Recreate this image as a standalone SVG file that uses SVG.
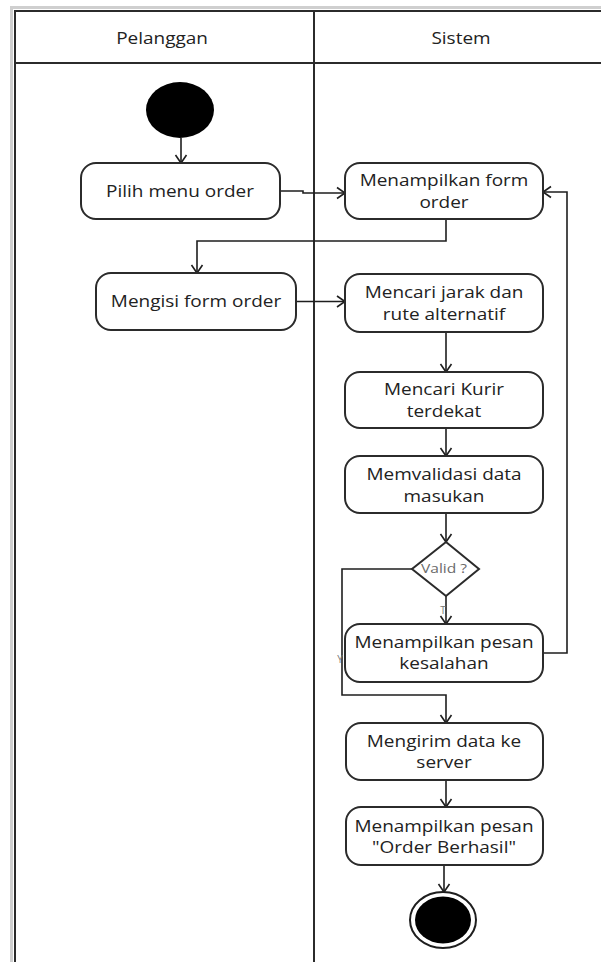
<svg xmlns="http://www.w3.org/2000/svg" width="601" height="962" viewBox="0 0 601 962">
  <style>
    .frame { fill: none; stroke: #2b2b2b; stroke-width: 2; }
    .halo { fill: none; stroke: #cfcfcf; stroke-width: 3; }
    .act { fill: #ffffff; stroke: #2b2b2b; stroke-width: 2; }
    .lbl { font-family: "Open Sans", "Noto Sans", sans-serif; font-size: 16.5px; fill: #222222; text-anchor: middle; }
    .small { font-family: "Open Sans", "Noto Sans", sans-serif; font-size: 12px; fill: #6a6a6a; text-anchor: middle; }
    .tiny { font-family: "Open Sans", "Noto Sans", sans-serif; font-size: 10px; fill: #777777; text-anchor: middle; }
    .flow { fill: none; stroke: #1e1e1e; stroke-width: 1.6; marker-end: url(#open); }
  </style>
  <defs>
    <marker id="open" markerUnits="userSpaceOnUse" markerWidth="14" markerHeight="14" refX="10" refY="7" orient="auto">
      <path d="M2,1.5 L10,7 L2,12.5" fill="none" stroke="#1e1e1e" stroke-width="1.6"/>
    </marker>
  </defs>

  <rect width="601" height="962" fill="#ffffff"/>

  <!-- swimlane frame -->
  <g id="lanes">
    <path class="halo" d="M11.5,962 V7.5 H601"/>
    <path class="frame" d="M15,962 V11 H601"/>
    <line class="frame" x1="15" y1="63" x2="601" y2="63"/>
    <line class="frame" x1="314" y1="11" x2="314" y2="962"/>
    <text class="lbl" transform="translate(162,44) scale(1.15,1)">Pelanggan</text>
    <text class="lbl" transform="translate(461,44) scale(1.15,1)">Sistem</text>
  </g>

  <!-- connectors -->
  <g id="connectors">
    <path class="flow" d="M181,138 V163"/>
    <path class="flow" d="M280,191 H303 V193 H345"/>
    <path class="flow" d="M446,219 V241 H197 V273"/>
    <path class="flow" d="M296,301.5 H345"/>
    <path class="flow" d="M446,332 V372"/>
    <path class="flow" d="M446,428 V456"/>
    <path class="flow" d="M446,513 V542"/>
    <path class="flow" d="M446,596 V624"/>
    <path class="flow" d="M543,653 H567 V192 H543"/>
    <path class="flow" d="M412,569 H342 V695 H446 V723"/>
    <path class="flow" d="M446,780 V807"/>
    <path class="flow" d="M444,865 V892"/>
    <text class="tiny" x="443" y="614">T</text>
    <text class="tiny" x="340" y="663">Y</text>
  </g>

  <g id="start">
    <ellipse cx="180" cy="110" rx="34" ry="28" fill="#000000"/>
  </g>

  <g id="pilih-menu">
    <rect class="act" x="81" y="163" width="199" height="56" rx="15"/>
    <text class="lbl" transform="translate(180,197) scale(1.15,1)">Pilih menu order</text>
  </g>

  <g id="tampil-form">
    <rect class="act" x="345" y="163" width="198" height="56" rx="15"/>
    <text class="lbl" transform="translate(444,186) scale(1.15,1)">Menampilkan form</text>
    <text class="lbl" transform="translate(444,208) scale(1.15,1)">order</text>
  </g>

  <g id="isi-form">
    <rect class="act" x="96" y="273" width="200" height="57" rx="15"/>
    <text class="lbl" transform="translate(196,307) scale(1.15,1)">Mengisi form order</text>
  </g>

  <g id="cari-jarak">
    <rect class="act" x="345" y="274" width="198" height="58" rx="15"/>
    <text class="lbl" transform="translate(444,298) scale(1.15,1)">Mencari jarak dan</text>
    <text class="lbl" transform="translate(444,320) scale(1.15,1)">rute alternatif</text>
  </g>

  <g id="cari-kurir">
    <rect class="act" x="345" y="372" width="198" height="56" rx="15"/>
    <text class="lbl" transform="translate(444,395) scale(1.15,1)">Mencari Kurir</text>
    <text class="lbl" transform="translate(444,417) scale(1.15,1)">terdekat</text>
  </g>

  <g id="validasi">
    <rect class="act" x="345" y="456" width="198" height="57" rx="15"/>
    <text class="lbl" transform="translate(444,480) scale(1.15,1)">Memvalidasi data</text>
    <text class="lbl" transform="translate(444,502) scale(1.15,1)">masukan</text>
  </g>

  <g id="valid-decision">
    <polygon class="act" points="446,542 479,569 446,596 412,569"/>
    <text class="small" transform="translate(444,573) scale(1.3,1)">Valid ?</text>
  </g>

  <g id="pesan-kesalahan">
    <rect class="act" x="345" y="624" width="198" height="58" rx="15"/>
    <text class="lbl" transform="translate(444,648) scale(1.15,1)">Menampilkan pesan</text>
    <text class="lbl" transform="translate(444,669) scale(1.15,1)">kesalahan</text>
  </g>

  <g id="kirim-data">
    <rect class="act" x="346" y="723" width="197" height="57" rx="15"/>
    <text class="lbl" transform="translate(444,747) scale(1.15,1)">Mengirim data ke</text>
    <text class="lbl" transform="translate(444,768) scale(1.15,1)">server</text>
  </g>

  <g id="pesan-berhasil">
    <rect class="act" x="346" y="807" width="197" height="58" rx="15"/>
    <text class="lbl" transform="translate(444,832) scale(1.15,1)">Menampilkan pesan</text>
    <text class="lbl" transform="translate(444,853) scale(1.15,1)">"Order Berhasil"</text>
  </g>

  <g id="end">
    <ellipse cx="443" cy="920" rx="33" ry="28" fill="#ffffff" stroke="#1e1e1e" stroke-width="2"/>
    <ellipse cx="443" cy="920" rx="28" ry="23.5" fill="#000000"/>
  </g>
</svg>
